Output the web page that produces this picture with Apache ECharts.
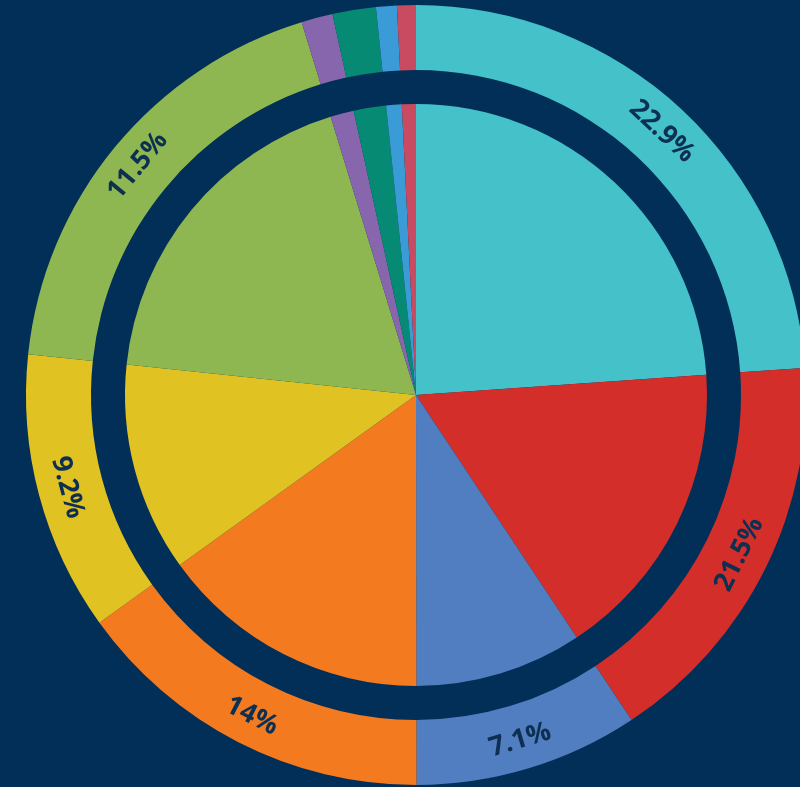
<!DOCTYPE html>
<html>
<head>
<meta charset="utf-8">
<script src="https://cdn.jsdelivr.net/npm/echarts@6/dist/echarts.min.js"></script>
<style>
html,body{margin:0;padding:0;background:#022f57;}
#chart{width:800px;height:787px;}
</style>
</head>
<body>
<div id="chart"></div>
<script>
const categories = ['A','B','C','D','E','F','G','H','I','J'];
const values = [23.9, 16.8, 9.3, 15.1, 11.6, 18.6, 1.3, 1.8, 0.86, 0.78];
const labels = ['22.9%','21.5%','7.1%','14%','9.2%','11.5%','','','',''];
const colors = ['#45c1ca','#d32e2a','#517ec0','#f47a20','#e0c222','#8fb751','#8866ad','#078a74','#3b9bd6','#c84b62'];

const chart = echarts.init(document.getElementById('chart'), null, {renderer:'canvas'});
const dataInner = categories.map((c,i)=>({name:c, value:values[i], itemStyle:{color:colors[i]}}));
const dataOuter = categories.map((c,i)=>({name:c, value:values[i], itemStyle:{color:colors[i]}, label:{show: labels[i] !== '', formatter: labels[i]}}));
chart.setOption({
  backgroundColor:'#022f57',
  animation:false,
  series:[
    {
      type:'pie', center:[416,395], radius:[0,291], startAngle:90, clockwise:true,
      label:{show:false}, labelLine:{show:false}, silent:true,
      itemStyle:{borderWidth:0},
      data:dataInner
    },
    {
      type:'pie', center:[416,395], radius:[325,390], startAngle:90, clockwise:true,
      labelLine:{show:false}, silent:true,
      itemStyle:{borderWidth:0},
      label:{position:'inside', rotate:'tangential', color:'#0c2f52', fontFamily:'Open Sans', fontWeight:'bold', fontSize:27},
      data:dataOuter
    }
  ]
});
</script>
</body>
</html>
